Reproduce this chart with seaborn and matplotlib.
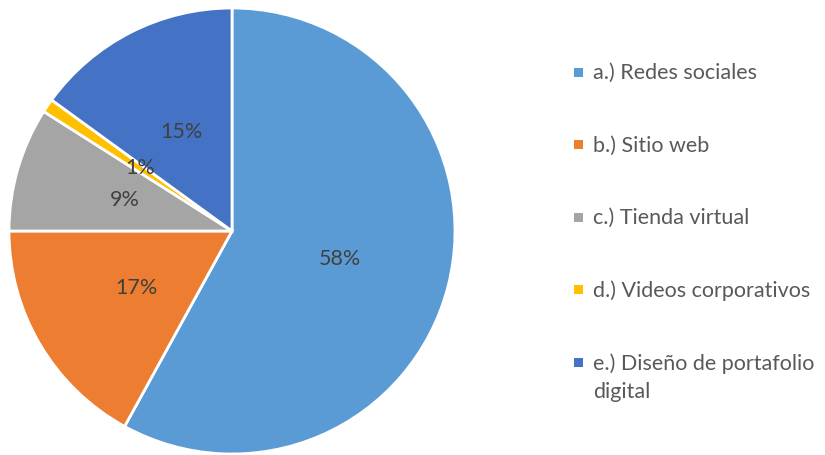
import matplotlib
matplotlib.use("Agg")
import matplotlib.pyplot as plt
import seaborn as sns
from matplotlib.patches import Rectangle

sns.set_theme(style="white")
plt.rcParams['font.family'] = ['Lato', 'DejaVu Sans']

categories = ["a.) Redes sociales", "b.) Sitio web", "c.) Tienda virtual",
              "d.) Videos corporativos", "e.) Diseño de portafolio\ndigital"]
values = [58, 17, 9, 1, 15]
colors = ["#5B9BD5", "#ED7D31", "#A5A5A5", "#FFC000", "#4472C4"]

W, H = 825, 455
fig = plt.figure(figsize=(W / 100, H / 100), dpi=100)
cx, cy, r = 232, 231, 223
ax = fig.add_axes([(cx - r) / W, (H - cy - r) / H, 2 * r / W, 2 * r / H])

wedges, texts, autotexts = ax.pie(
    values, colors=colors, startangle=90, counterclock=False,
    autopct=lambda p: f"{p:.0f}%", pctdistance=0.5,
    wedgeprops=dict(edgecolor="white", linewidth=2),
    textprops=dict(color="#404040", fontsize=15.5))
ax.set_aspect("equal")
ax.set_xlim(-1, 1)
ax.set_ylim(-1, 1)
ax.axis("off")

# legend drawn manually
y0, step = 72, 72.5
for i, (lab, col) in enumerate(zip(categories, colors)):
    ypx = y0 + i * step
    fig.patches.append(Rectangle((574 / W, 1 - (ypx + 4.5) / H), 9 / W, 9 / H,
                                 transform=fig.transFigure, facecolor=col,
                                 edgecolor="none"))
    fig.text(593 / W, 1 - (ypx - 9) / H, lab, ha="left", va="top",
             fontsize=15.5, color="#595959", linespacing=1.5)

fig.savefig("out.png", dpi=100, facecolor="white")
